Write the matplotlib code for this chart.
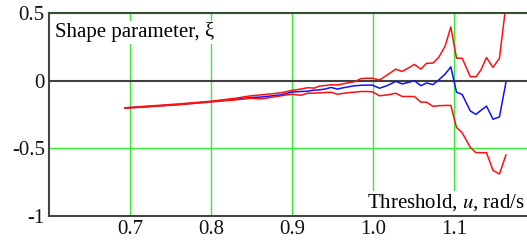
import matplotlib
matplotlib.use("Agg")
import matplotlib.pyplot as plt

plt.rcParams['font.family'] = ['Liberation Serif', 'DejaVu Serif']
plt.rcParams['mathtext.fontset'] = 'stix'

# threshold values (rad/s)
threshold = [0.694, 0.76, 0.80, 0.83, 0.849, 0.862, 0.886, 0.900, 0.911, 0.919,
             0.927, 0.934, 0.942, 0.948, 0.956, 0.962, 0.970, 0.977, 0.985, 0.992,
             0.999, 1.008, 1.018, 1.028, 1.036, 1.044, 1.051, 1.059, 1.066, 1.074,
             1.081, 1.089, 1.096, 1.103, 1.110, 1.120, 1.127, 1.133, 1.140, 1.148,
             1.156, 1.164]

# shape parameter estimate and confidence bounds
xi_upper = [-0.200, -0.172, -0.152, -0.130, -0.112, -0.105, -0.090, -0.072, -0.062, -0.052,
            -0.055, -0.040, -0.035, -0.030, -0.032, -0.025, -0.015, -0.008, 0.015, 0.018,
            0.018, 0.005, 0.044, 0.085, 0.068, 0.095, 0.120, 0.085, 0.128, 0.130,
            0.172, 0.256, 0.397, 0.166, 0.166, 0.029, 0.029, 0.078, 0.171, 0.098,
            0.166, 0.56]
xi_est = [-0.202, -0.176, -0.155, -0.138, -0.125, -0.121, -0.105, -0.084, -0.080, -0.078,
          -0.070, -0.068, -0.060, -0.050, -0.062, -0.054, -0.045, -0.038, -0.034, -0.033,
          -0.033, -0.056, -0.035, -0.005, -0.024, -0.012, 0.000, -0.037, -0.017, -0.029,
          0.005, 0.049, 0.102, -0.085, -0.102, -0.224, -0.249, -0.220, -0.188, -0.285,
          -0.268, -0.012]
xi_lower = [-0.204, -0.178, -0.157, -0.142, -0.130, -0.135, -0.112, -0.100, -0.108, -0.093,
            -0.092, -0.090, -0.087, -0.086, -0.100, -0.095, -0.088, -0.085, -0.080, -0.080,
            -0.082, -0.112, -0.105, -0.093, -0.117, -0.117, -0.117, -0.159, -0.159, -0.190,
            -0.185, -0.183, -0.183, -0.346, -0.385, -0.493, -0.532, -0.532, -0.532, -0.663,
            -0.690, -0.549]

xticks = [0.7, 0.8, 0.9, 1.0, 1.1]
xtick_labels = ['0.7', '0.8', '0.9', '1.0', '1.1']
yticks = [-1, -0.5, 0, 0.5]
ytick_labels = ['-1', '-0.5', '0', '0.5']

fig = plt.figure(figsize=(5.27, 2.41), dpi=100)
ax = fig.add_axes([49/527, 25/241, 478/527, 203/241])

ax.set_xlim(0.6, 1.19)
ax.set_ylim(-1, 0.5)

for xv in xticks:
    ax.axvline(xv, color='#33ee33', lw=1.0, zorder=1)
ax.axhline(-0.5, color='#33ee33', lw=1.0, zorder=1)
ax.axhline(0, color='#404040', lw=1.5, zorder=2)

ax.plot(threshold, xi_est, color='#1010ff', lw=1.1, zorder=3)
ax.plot(threshold, xi_upper, color='#ff1010', lw=1.1, zorder=4)
ax.plot(threshold, xi_lower, color='#ff1010', lw=1.1, zorder=4)

ax.set_xticks(xticks)
ax.set_xticklabels(xtick_labels)
ax.set_yticks(yticks)
ax.set_yticklabels(ytick_labels)
ax.tick_params(length=0, labelsize=15, colors='#111111')
ax.tick_params(axis='x', pad=3)
ax.tick_params(axis='y', pad=3)

for side in ['left', 'bottom']:
    ax.spines[side].set_color('#444444')
    ax.spines[side].set_linewidth(1.5)
ax.spines['top'].set_color('#2f4f2f')
ax.spines['top'].set_linewidth(1.5)
ax.spines['right'].set_visible(False)

ax.text(0.013, 0.905, 'Shape parameter, ξ', transform=ax.transAxes, fontsize=15,
        va='center', ha='left', zorder=5,
        bbox=dict(facecolor='white', edgecolor='none', pad=1))
ax.text(0.996, 0.065, r'Threshold, $u$, rad/s', transform=ax.transAxes, fontsize=15,
        va='center', ha='right', zorder=5,
        bbox=dict(facecolor='white', edgecolor='none', pad=1))

fig.savefig('out.png', dpi=100)
